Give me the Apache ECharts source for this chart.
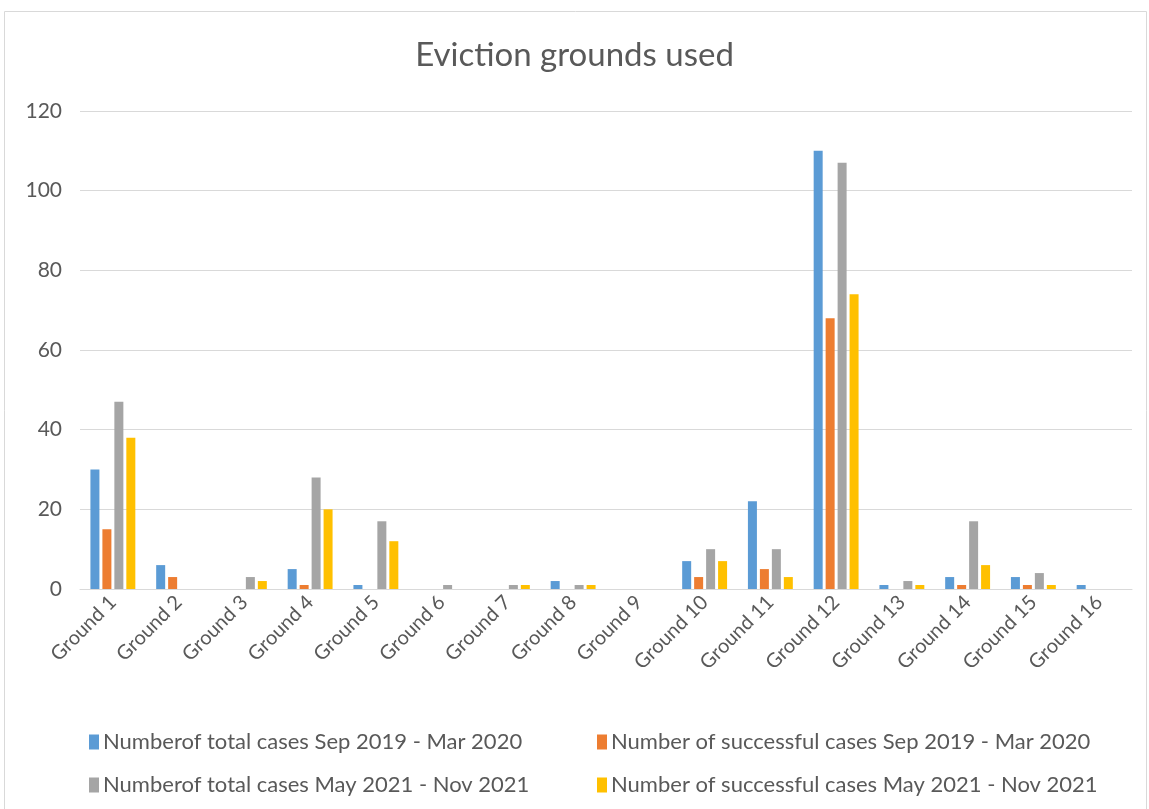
<!DOCTYPE html>
<html>
<head>
<meta charset="utf-8">
<script src="https://cdn.jsdelivr.net/npm/echarts@6/dist/echarts.min.js"></script>
<style>
  html, body { margin: 0; padding: 0; background: #fff; }
  #chart { width: 1149px; height: 809px; }
</style>
</head>
<body>
<div id="chart"></div>
<script>
// Eviction grounds and the case counts for each reporting period
const categories = ['Ground 1','Ground 2','Ground 3','Ground 4','Ground 5','Ground 6','Ground 7','Ground 8',
  'Ground 9','Ground 10','Ground 11','Ground 12','Ground 13','Ground 14','Ground 15','Ground 16'];
const totalSep19 = [30, 6, 0, 5, 1, 0, 0, 2, 0, 7, 22, 110, 1, 3, 3, 1];
const successSep19 = [15, 3, 0, 1, 0, 0, 0, 0, 0, 3, 5, 68, 0, 1, 1, 0];
const totalMay21 = [47, 0, 3, 28, 17, 1, 1, 1, 0, 10, 10, 107, 2, 17, 4, 0];
const successMay21 = [38, 0, 2, 20, 12, 0, 1, 1, 0, 7, 3, 74, 1, 6, 1, 0];
const seriesNames = [
  'Numberof total cases Sep 2019 - Mar 2020',
  'Number of successful cases Sep 2019 - Mar 2020',
  'Numberof total cases May 2021 - Nov 2021',
  'Number of successful cases May 2021 - Nov 2021'
];
const colors = ['#5b9bd5', '#ed7d31', '#a5a5a5', '#ffc000'];
const yTicks = [0, 20, 40, 60, 80, 100, 120];

const FONT = 'Lato, "Open Sans", sans-serif';
const TXT = '#595959';

const chart = echarts.init(document.getElementById('chart'), null, { renderer: 'canvas' });

const seriesData = [totalSep19, successSep19, totalMay21, successMay21];
const legendPos = [[84, 726], [592, 726], [84, 769], [592, 769]];

chart.setOption({
  animation: false,
  color: colors,
  title: {
    text: 'Eviction grounds used',
    left: 'center',
    top: 34,
    textStyle: { fontFamily: FONT, fontSize: 33, fontWeight: 'normal', color: TXT }
  },
  graphic: [{
    type: 'rect',
    shape: { x: 4.5, y: 11.5, width: 1142, height: 810 },
    style: { fill: 'none', stroke: '#d9d9d9', lineWidth: 1 },
    silent: true
  }],
  legend: seriesNames.map((n, i) => ({
    data: [n],
    left: legendPos[i][0],
    top: legendPos[i][1],
    icon: 'rect',
    itemWidth: 10,
    itemHeight: 15,
    itemGap: 4,
    textStyle: { fontFamily: FONT, fontSize: 22, color: TXT, padding: [0, 0, 0, -1] },
    selectedMode: false
  })),
  grid: { left: 80, right: 17, top: 111, bottom: 220, containLabel: false },
  xAxis: {
    type: 'category',
    data: categories,
    axisLine: { lineStyle: { color: '#d9d9d9', width: 1 } },
    axisTick: { show: false },
    axisLabel: {
      rotate: 45,
      interval: 0,
      margin: 10,
      fontFamily: FONT,
      fontSize: 20,
      color: TXT
    }
  },
  yAxis: {
    type: 'value',
    min: yTicks[0],
    max: yTicks[yTicks.length - 1],
    interval: 20,
    axisLine: { show: false },
    axisTick: { show: false },
    splitLine: { lineStyle: { color: '#d9d9d9', width: 1 } },
    axisLabel: { fontFamily: FONT, fontSize: 21, color: TXT, margin: 18 }
  },
  series: seriesData.map((d, i) => ({
    name: seriesNames[i],
    type: 'bar',
    data: d,
    barWidth: 9,
    barGap: '33%',
    itemStyle: { color: colors[i] }
  }))
});
</script>
</body>
</html>
